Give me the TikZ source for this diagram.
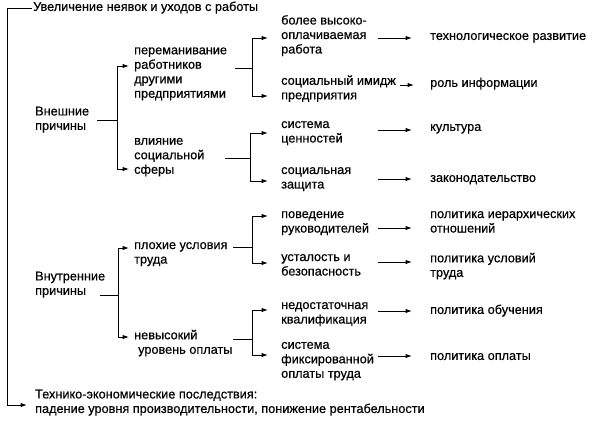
\documentclass[tikz,border=0pt]{standalone}
\usepackage{fontspec}
\setmainfont{Liberation Sans}[FakeBold=0.5]
\usetikzlibrary{arrows.meta,calc}
\begin{document}
\begin{tikzpicture}[x=1pt,y=-1pt,
  txt/.style={anchor=west,align=left,inner sep=0pt,font=\fontsize{12.7}{14.5}\selectfont,
    execute at begin node=\strut, execute at end node=\strut},
  ln/.style={line width=1pt},
  arr/.style={ln,-{Latex[length=6.5pt,width=4.5pt]}}]
\useasboundingbox (0,0) rectangle (593,424);
% column 1
\node[txt] (top) at (33,8) {Увеличение неявок и уходов с работы};
\node[txt] (ext) at (35,120.5) {Внешние\\причины};
\node[txt] (int) at (35,285.5) {Внутренние\\причины};
\node[txt] (cons) at (35,403.5) {Технико-экономические последствия:\\падение уровня производительности, понижение рентабельности};
% column 2
\node[txt] (lure) at (134,74.75) {переманивание\\работников\\другими\\предприятиями};
\node[txt] (soc) at (134,158) {влияние\\социальной\\сферы};
\node[txt] (bad) at (134,255) {плохие условия\\труда};
\node[txt] (low) at (134,344) {невысокий\\\hspace*{4pt}уровень оплаты};
% column 3
\node[txt] (pay) at (281,36.5) {более высоко-\\оплачиваемая\\работа};
\node[txt] (img) at (281,89.5) {социальный имидж\\предприятия};
\node[txt] (val) at (281,134) {система\\ценностей};
\node[txt] (prot) at (281,180) {социальная\\защита};
\node[txt] (beh) at (281,224) {поведение\\руководителей};
\node[txt] (fat) at (281,267) {усталость и\\безопасность};
\node[txt] (qual) at (281,315) {недостаточная\\квалификация};
\node[txt] (fix) at (281,362) {система\\фиксированной\\оплаты труда};
% column 4
\node[txt] (tech) at (430,37) {технологическое развитие};
\node[txt] (info) at (430,84) {роль информации};
\node[txt] (cult) at (430,128) {культура};
\node[txt] (law) at (430,179) {законодательство};
\node[txt] (hier) at (430,224) {политика иерархических\\отношений};
\node[txt] (cond) at (430,267) {политика условий\\труда};
\node[txt] (train) at (430,311) {политика обучения};
\node[txt] (paypol) at (430,357) {политика оплаты};
% outer bracket
\coordinate (ol) at (7,0);
\draw[arr] ($(top.west)+(-1,0)$) -- (top.west -| ol) |- ($(cons.west)+(-8,1.5)$);
% column 1 -> column 2
\coordinate (s1) at (97,0);   \coordinate (b1) at (117,0);
\coordinate (s2) at (100,0);  \coordinate (b2) at (118,0);
\draw[ln] (ext.east -| s1) -- (ext.east -| b1);
\draw[arr] (ext.east -| b1) |- ($(lure.west)+(-5,-8.75)$);
\draw[arr] (ext.east -| b1) |- ($(soc.west)+(-5,11)$);
\draw[ln] ($(int.east -| s2)+(0,9.5)$) -- ($(int.east -| b2)+(0,9.5)$);
\draw[arr] ($(int.east -| b2)+(0,9.5)$) |- ($(bad.west)+(-5,-7)$);
\draw[arr] ($(int.east -| b2)+(0,9.5)$) |- ($(low.west)+(-5,-7)$);
% column 2 -> column 3
\coordinate (s3) at (235,0);  \coordinate (b3) at (252,0);
\coordinate (s4) at (225,0);  \coordinate (b4) at (250,0);
\coordinate (s5) at (233,0);
\draw[ln] ($(lure.east -| s3)+(0,-6.75)$) -- ($(lure.east -| b3)+(0,-6.75)$);
\draw[arr] ($(lure.east -| b3)+(0,-6.75)$) |- ($(pay.west)+(-13,1.5)$);
\draw[arr] ($(lure.east -| b3)+(0,-6.75)$) |- ($(img.west)+(-13,6.5)$);
\draw[ln] (soc.east -| s4) -- (soc.east -| b4);
\draw[arr] (soc.east -| b4) |- ($(val.west)+(-13,-1)$);
\draw[arr] (soc.east -| b4) |- ($(prot.west)+(-13,1)$);
\draw[ln] ($(bad.east -| s5)+(0,-8)$) -- ($(bad.east -| b3)+(0,-8)$);
\draw[arr] ($(bad.east -| b3)+(0,-8)$) |- ($(beh.west)+(-13,-8)$);
\draw[arr] ($(bad.east -| b3)+(0,-8)$) |- ($(fat.west)+(-13,-4)$);
\draw[ln] ($(low.east -| s5)+(0,-5)$) -- ($(low.east -| b3)+(0,-5)$);
\draw[arr] ($(low.east -| b3)+(0,-5)$) |- ($(qual.west)+(-13,-5)$);
\draw[arr] ($(low.east -| b3)+(0,-5)$) |- ($(fix.west)+(-13,-7)$);
% column 3 -> column 4
\draw[arr] ($(pay.west |- tech.west)+(97,1)$) -- ($(tech.west)+(-18,1)$);
\draw[arr] ($(img.west |- info.west)+(119,1)$) -- ($(info.west)+(-16,1)$);
\draw[arr] ($(val.west |- cult.west)+(97,2)$) -- ($(cult.west)+(-18,2)$);
\draw[arr] ($(prot.west |- law.west)+(97,0)$) -- ($(law.west)+(-18,0)$);
\draw[arr] ($(beh.west |- hier.west)+(97,4)$) -- ($(hier.west)+(-18,4)$);
\draw[arr] ($(fat.west |- cond.west)+(97,-5)$) -- ($(cond.west)+(-18,-5)$);
\draw[arr] ($(qual.west |- train.west)+(97,0)$) -- ($(train.west)+(-18,0)$);
\draw[arr] ($(fix.west |- paypol.west)+(97,-1)$) -- ($(paypol.west)+(-18,-1)$);
\end{tikzpicture}
\end{document}
